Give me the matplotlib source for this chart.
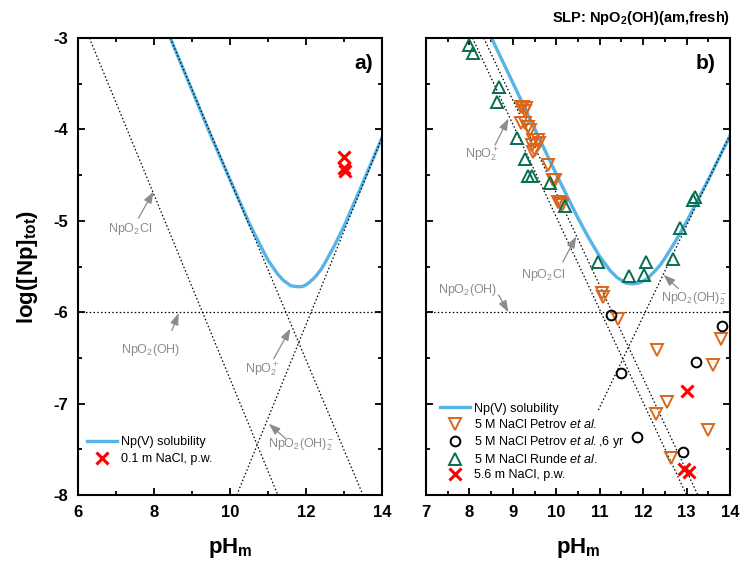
import matplotlib

matplotlib.use('Agg')
import matplotlib.pyplot as plt
from matplotlib.ticker import MultipleLocator

plt.rcParams['font.family'] = ['Liberation Sans', 'DejaVu Sans']
plt.rcParams['mathtext.fontset'] = 'custom'
plt.rcParams['mathtext.rm'] = 'Liberation Sans'
plt.rcParams['mathtext.it'] = 'Liberation Sans:italic'
plt.rcParams['mathtext.bf'] = 'Liberation Sans:bold'
plt.rcParams['axes.unicode_minus'] = False

# ---- panel a: 0.1 m NaCl ----
sol_a_ph = [8.43, 9.0, 9.5, 10.0, 10.5, 10.75, 11.0, 11.25, 11.4, 11.5, 11.6, 11.75,
            11.9, 12.0, 12.1, 12.25, 12.4, 12.5, 12.75, 13.0, 13.5, 14.0]
sol_a_log = [-3.0, -3.57, -4.07, -4.55, -5.02, -5.23, -5.43, -5.58, -5.65, -5.68, -5.71, -5.72,
             -5.72, -5.70, -5.67, -5.61, -5.53, -5.46, -5.27, -5.06, -4.58, -4.09]

a_npo2_ph, a_npo2_log = [8.43, 13.50], [-3, -8]
a_npo2cl_ph, a_npo2cl_log = [6.30, 11.26], [-3, -8]
a_oh2_ph, a_oh2_log = [10.18, 14.0], [-8, -4.09]
a_oh_ph, a_oh_log = [6, 14], [-6, -6]

pw_a_ph = [13.0, 13.0, 13.02]
pw_a_log = [-4.30, -4.42, -4.46]

# ---- panel b: 5 M NaCl ----
sol_b_ph = [8.51, 9.0, 9.5, 10.0, 10.5, 10.75, 11.0, 11.25, 11.4, 11.5, 11.6, 11.75,
            11.9, 12.0, 12.1, 12.25, 12.4, 12.5, 12.75, 13.0, 13.5, 14.0]
sol_b_log = [-3.0, -3.49, -3.99, -4.49, -4.97, -5.19, -5.39, -5.55, -5.62, -5.65, -5.68, -5.69,
             -5.68, -5.66, -5.63, -5.56, -5.48, -5.41, -5.22, -5.01, -4.55, -4.07]

b_npo2_ph, b_npo2_log = [8.07, 13.00], [-3, -8]
b_npo2cl_ph, b_npo2cl_log = [8.33, 13.26], [-3, -8]
b_oh2_ph, b_oh2_log = [10.97, 14.0], [-7.07, -4.06]
b_oh_ph, b_oh_log = [7, 14], [-6, -6]

petrov_ph = [9.19, 9.24, 9.30, 9.27, 9.19, 9.29, 9.34, 9.40, 9.47, 9.57,
             9.61, 9.44, 9.50, 9.47, 9.81, 9.92, 9.96, 10.05, 10.09, 10.13,
             11.05, 11.08, 11.43, 12.32, 12.55, 12.30, 12.64, 13.49, 13.60, 13.79]
petrov_log = [-3.75, -3.76, -3.77, -3.80, -3.93, -3.93, -3.97, -4.01, -4.12, -4.12,
              -4.15, -4.17, -4.22, -4.25, -4.39, -4.55, -4.55, -4.79, -4.81, -4.83,
              -5.79, -5.83, -6.07, -6.41, -6.98, -7.11, -7.60, -7.29, -6.58, -6.29]

petrov6_ph = [11.26, 11.49, 11.87, 12.91, 13.21, 13.81]
petrov6_log = [-6.03, -6.66, -7.37, -7.53, -6.54, -6.15]

runde_ph = [8.00, 8.08, 8.67, 8.63, 9.09, 9.28, 9.34, 9.43, 9.86, 10.20,
            10.95, 11.68, 12.01, 12.06, 12.68, 12.84, 13.16, 13.20]
runde_log = [-3.08, -3.16, -3.54, -3.70, -4.09, -4.32, -4.51, -4.51, -4.59, -4.84,
             -5.45, -5.60, -5.59, -5.45, -5.42, -5.08, -4.77, -4.74]

pw_b_ph = [13.02, 12.93, 13.05]
pw_b_log = [-6.86, -7.71, -7.75]

BLUE = '#56b4e9'
ORANGE = '#d9661a'
GREEN = '#05704f'
GRAY = '#8c8c8c'
DOT = (0, (1.2, 1.8))

fig = plt.figure(figsize=(7.42, 5.66), dpi=100)
ax_a = fig.add_axes([0.1051, 0.1254, 0.4097, 0.8074])
ax_b = fig.add_axes([0.5741, 0.1254, 0.4097, 0.8074])


def style(ax, xmin, xmax, xmajor):
    ax.set_xlim(xmin, xmax)
    ax.set_ylim(-8, -3)
    ax.xaxis.set_major_locator(MultipleLocator(xmajor))
    ax.xaxis.set_minor_locator(MultipleLocator(xmajor / 2))
    ax.yaxis.set_major_locator(MultipleLocator(1))
    ax.yaxis.set_minor_locator(MultipleLocator(0.5))
    ax.tick_params(which='both', direction='in', top=True, right=True, width=1.3)
    ax.tick_params(which='major', length=5, labelsize=12, pad=7)
    ax.tick_params(which='minor', length=3)
    for s in ax.spines.values():
        s.set_linewidth(1.5)
    for lab in ax.get_xticklabels() + ax.get_yticklabels():
        lab.set_fontweight('bold')
    ax.set_xlabel(r'pH$_\mathbf{m}$', fontsize=16, fontweight='bold', labelpad=12)


def note(ax, text, tx, ty, tail, tip):
    ax.annotate('', xy=tip, xytext=tail,
                arrowprops=dict(arrowstyle='-|>,head_length=0.7,head_width=0.25',
                                color=GRAY, lw=0.9, shrinkA=0, shrinkB=0))
    ax.text(tx, ty, text, color=GRAY, fontsize=9, ha='center', va='center')


# panel a
ax = ax_a
for px, py in [(a_npo2_ph, a_npo2_log), (a_npo2cl_ph, a_npo2cl_log),
               (a_oh2_ph, a_oh2_log), (a_oh_ph, a_oh_log)]:
    ax.plot(px, py, color='black', lw=0.9, ls=DOT, zorder=3)
ax.plot(sol_a_ph, sol_a_log, color=BLUE, lw=2.4, zorder=2, label='Np(V) solubility')
ax.plot(pw_a_ph, pw_a_log, 'x', color='red', ms=8, mew=2.2, zorder=4,
        label='0.1 m NaCl, p.w.')
note(ax, r'NpO$_2$Cl', 7.37, -5.09, (7.59, -4.97), (7.99, -4.68))
note(ax, r'NpO$_2$(OH)', 7.90, -6.41, (8.47, -6.20), (8.65, -6.01))
note(ax, r'NpO$_2^+$', 10.85, -6.63, (11.15, -6.51), (11.59, -6.18))
note(ax, r'NpO$_2$(OH)$_2^-$', 11.86, -7.45, (11.46, -7.38), (11.02, -7.22))
style(ax, 6, 14, 2)
ax.set_ylabel(r'log([Np]$_\mathbf{tot}$)', fontsize=16, fontweight='bold', labelpad=10)
ax.text(0.94, 0.945, 'a)', transform=ax.transAxes, fontsize=15, fontweight='bold',
        ha='center', va='center')
ax.legend(loc='lower left', bbox_to_anchor=(0.03, 0.065), frameon=False, fontsize=9,
          handlelength=2.4, handletextpad=0.35, labelspacing=0.4, borderpad=0,
          borderaxespad=0)

# panel b
ax = ax_b
for px, py in [(b_npo2_ph, b_npo2_log), (b_npo2cl_ph, b_npo2cl_log),
               (b_oh2_ph, b_oh2_log), (b_oh_ph, b_oh_log)]:
    ax.plot(px, py, color='black', lw=0.9, ls=DOT, zorder=3)
ax.plot(sol_b_ph, sol_b_log, color=BLUE, lw=2.4, zorder=2, label='Np(V) solubility')
ax.plot(petrov_ph, petrov_log, 'v', mfc='none', mec=ORANGE, ms=8, mew=1.4, zorder=4,
        label=r'5 M NaCl Petrov $\mathit{et\ al.}$')
ax.plot(petrov6_ph, petrov6_log, 'o', mfc='none', mec='black', ms=7, mew=1.4, zorder=4,
        label=r'5 M NaCl Petrov $\mathit{et\ al.}$,6 yr')
ax.plot(runde_ph, runde_log, '^', mfc='none', mec=GREEN, ms=8, mew=1.4, zorder=5,
        label=r'5 M NaCl Runde $\mathit{et\ al.}$')
ax.plot(pw_b_ph, pw_b_log, 'x', color='red', ms=8, mew=2.2, zorder=6,
        label='5.6 m NaCl, p.w.')
note(ax, r'NpO$_2^+$', 8.28, -4.28, (8.59, -4.17), (8.90, -3.88))
note(ax, r'NpO$_2$Cl', 9.70, -5.59, (10.15, -5.45), (10.46, -5.17))
note(ax, r'NpO$_2$(OH)', 7.97, -5.76, (8.67, -5.81), (8.90, -6.0))
note(ax, r'NpO$_2$(OH)$_2^-$', 13.18, -5.85, (12.81, -5.74), (12.47, -5.59))
style(ax, 7, 14, 1)
ax.tick_params(which='both', labelleft=False)
ax.text(0.92, 0.945, 'b)', transform=ax.transAxes, fontsize=15, fontweight='bold',
        ha='center', va='center')
ax.legend(loc='lower left', bbox_to_anchor=(0.045, 0.03), frameon=False, fontsize=9,
          handlelength=2.4, handletextpad=0.35, labelspacing=0.25, borderpad=0,
          borderaxespad=0)

fig.text(0.984, 0.968, r'SLP: NpO$_\mathbf{2}$(OH)(am,fresh)', fontsize=10.5,
         fontweight='bold', ha='right', va='center')

fig.savefig('out.png', dpi=100)
